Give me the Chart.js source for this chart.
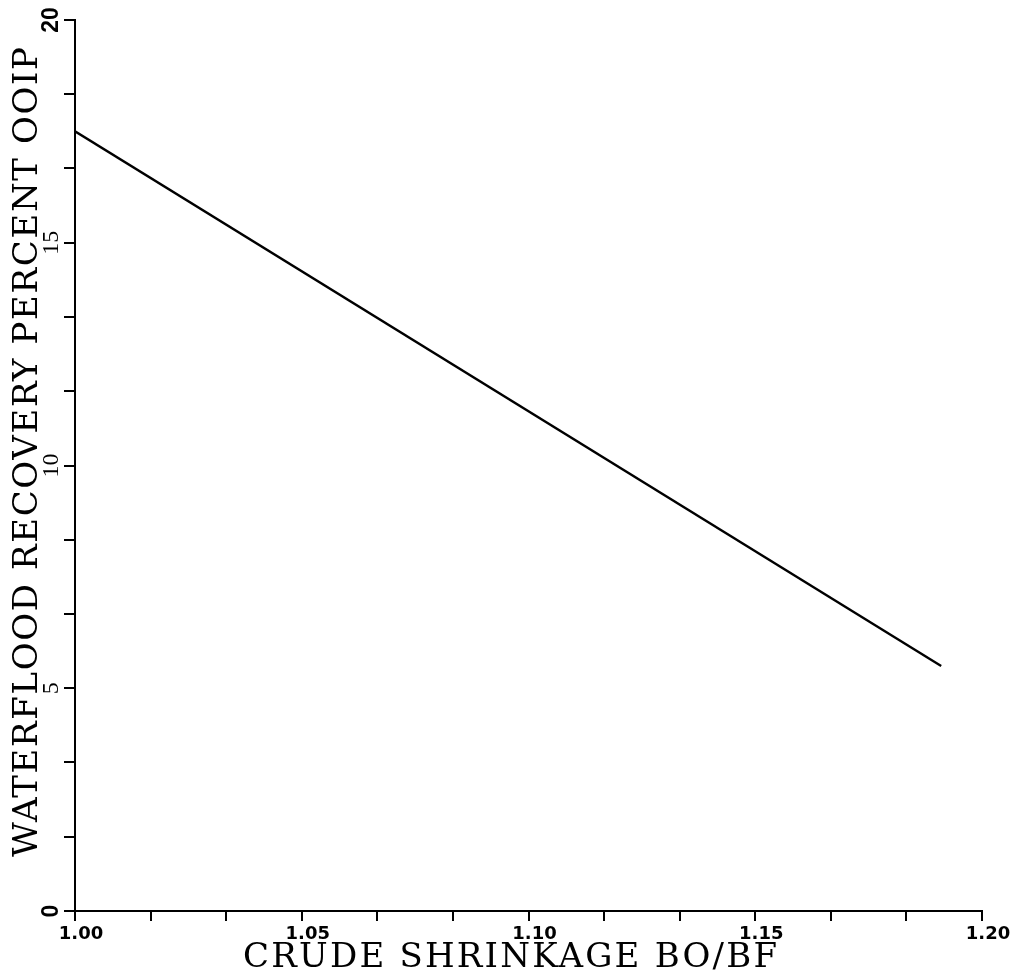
<!DOCTYPE html>
<html><head><meta charset="utf-8">
<script src="https://cdn.jsdelivr.net/npm/chart.js@4/dist/chart.umd.min.js"></script>
<style>html,body{margin:0;padding:0;background:#fff;}</style>
</head><body>
<canvas id="c" width="1020" height="980"></canvas>
<script>
// ---- data ----
const xValues = [1.00, 1.191];
const yValues = [17.5, 5.5];
const xTickLabels = ['1.00', '1.05', '1.10', '1.15', '1.20'];
const yTickLabels = ['0', '5', '10', '15', '20'];
const minorPerMajor = 3;
const xTitle = 'CRUDE SHRINKAGE BO/BF';
const yTitle = 'WATERFLOOD RECOVERY PERCENT OOIP';

function tickPositions(labels) {
  const majors = labels.map(Number);
  const out = [];
  for (let i = 0; i < majors.length - 1; i++) {
    for (let k = 0; k < minorPerMajor; k++) {
      out.push(majors[i] + (majors[i + 1] - majors[i]) * k / minorPerMajor);
    }
  }
  out.push(majors[majors.length - 1]);
  return out;
}
const xTickPos = tickPositions(xTickLabels);
const yTickPos = tickPositions(yTickLabels);
function labelFor(labels, v) {
  const l = labels.find(s => Math.abs(Number(s) - v) < 1e-6);
  return l === undefined ? '' : l;
}

// draws text starting at (0,0) spread to a given total length (typewriter look)
function spreadText(ctx, text, length) {
  ctx.textAlign = 'left';
  if ('letterSpacing' in ctx) {
    ctx.letterSpacing = '0px';
    const w = ctx.measureText(text).width;
    const ls = (length - w) / (text.length - 1);
    ctx.letterSpacing = ls + 'px';
    ctx.fillText(text, 0, 0);
    ctx.letterSpacing = '0px';
  } else {
    const cell = length / text.length;
    ctx.textAlign = 'center';
    for (let i = 0; i < text.length; i++) ctx.fillText(text[i], cell * (i + 0.5), 0);
  }
}

const titlePlugin = {
  id: 'axisTitles',
  afterDraw(chart) {
    const ctx = chart.ctx;
    ctx.save();
    ctx.fillStyle = '#000';
    ctx.font = '34px "DejaVu Serif"';
    ctx.textBaseline = 'alphabetic';
    ctx.save();
    ctx.translate(243, 967);
    spreadText(ctx, xTitle, 534);
    ctx.restore();
    ctx.save();
    ctx.translate(37, 857);
    ctx.rotate(-Math.PI / 2);
    spreadText(ctx, yTitle, 810);
    ctx.restore();
    ctx.restore();
  }
};

new Chart(document.getElementById('c'), {
  type: 'scatter',
  data: {
    datasets: [{
      data: xValues.map((x, i) => ({ x: x, y: yValues[i] })),
      showLine: true,
      borderColor: '#000',
      borderWidth: 2.4,
      pointRadius: 0,
      fill: false,
      tension: 0
    }]
  },
  options: {
    responsive: false,
    maintainAspectRatio: false,
    animation: false,
    layout: { padding: { top: 20, right: 38, left: 0, bottom: 0 } },
    plugins: { legend: { display: false }, tooltip: { enabled: false } },
    scales: {
      x: {
        type: 'linear', min: 1.0, max: 1.2,
        afterBuildTicks: s => { s.ticks = xTickPos.map(v => ({ value: v })); },
        afterFit: s => { s.height = 69; },
        grid: { drawOnChartArea: false, drawTicks: true, tickLength: 10, color: '#000', lineWidth: 2 },
        border: { display: true, color: '#000', width: 2 },
        ticks: {
          autoSkip: false, maxRotation: 0, minRotation: 0, padding: 3, labelOffset: 6,
          color: '#000', font: { family: 'DejaVu Sans', weight: 'bold', size: 18 },
          callback: v => labelFor(xTickLabels, v)
        }
      },
      y: {
        type: 'linear', min: 0, max: 20,
        afterBuildTicks: s => { s.ticks = yTickPos.map(v => ({ value: v })); },
        afterFit: s => { s.width = 75; },
        grid: { drawOnChartArea: false, drawTicks: true, tickLength: 11, color: '#000', lineWidth: 2 },
        border: { display: true, color: '#000', width: 2 },
        ticks: {
          autoSkip: false, minRotation: 90, maxRotation: 90, crossAlign: 'center', padding: 0,
          color: '#000',
          font: c => (c.tick && (c.tick.value === 0 || c.tick.value === 20))
            ? { family: 'Liberation Sans', weight: 'bold', size: 23 }
            : { family: 'Liberation Serif', size: 24 },
          callback: v => labelFor(yTickLabels, v)
        }
      }
    }
  },
  plugins: [titlePlugin]
});
</script>
</body></html>
